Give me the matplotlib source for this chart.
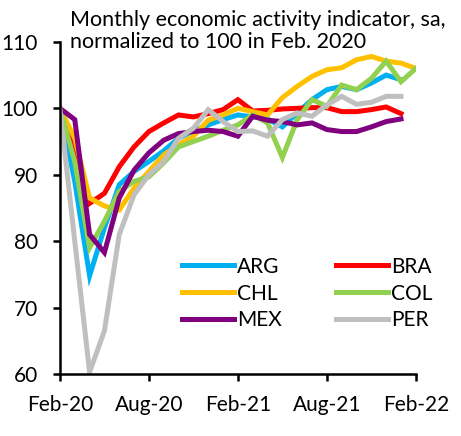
import numpy as np
import matplotlib.pyplot as plt

plt.rcParams['font.family'] = ['Lato', 'DejaVu Sans']

# monthly index values, Feb-20 onwards
arg = [100, 89, 74.8, 82, 88.5, 90.5, 92, 93.6, 95.5, 96.6, 97.5, 98.3, 99.0,
       98.7, 98.4, 97.2, 99.3, 101.3, 102.8, 103.3, 102.8, 103.8, 105.0, 104.3]
bra = [100, 94, 85.7, 87.2, 91.2, 94.2, 96.5, 97.8, 99.0, 98.7, 99.2, 99.8, 101.3,
       99.6, 99.7, 99.9, 100.0, 100.1, 100.1, 99.5, 99.5, 99.8, 100.2, 99.2]
chl = [100, 95.5, 86.5, 85.3, 84.7, 88, 90.5, 93, 94.5, 95.8, 98.2, 99, 100,
       99.5, 99, 101.6, 103.3, 104.8, 105.8, 106.1, 107.3, 107.8, 107.1, 106.8, 106]
col = [100, 92, 79, 83, 87.5, 89, 89.7, 91.8, 94.2, 95, 95.8, 96.7, 97.5,
       99, 97.8, 92.6, 98.3, 101.3, 100.3, 103.5, 102.8, 104.5, 107.1, 104, 106]
mex = [100, 98.3, 81, 78.3, 86.5, 90.7, 93.3, 95.2, 96.2, 96.5, 96.7, 96.5, 95.8,
       98.8, 98.2, 98, 97.5, 97.8, 96.8, 96.5, 96.5, 97.2, 98, 98.4]
per = [100, 80, 60.3, 66.5, 81, 87, 90, 92, 95.5, 97, 99.8, 98, 96.5,
       96.6, 95.8, 98.3, 99.3, 98.8, 100.5, 101.8, 100.6, 100.9, 101.8, 101.8]

series = [("ARG", arg, "#00B0F0"), ("BRA", bra, "#FF0000"),
          ("CHL", chl, "#FFC000"), ("COL", col, "#92D050"),
          ("MEX", mex, "#800080"), ("PER", per, "#BFBFBF")]

tick_pos = [0, 6, 12, 18, 24]
tick_labels = ["Feb-20", "Aug-20", "Feb-21", "Aug-21", "Feb-22"]

fig = plt.figure(figsize=(4.61, 4.36), dpi=100)
ax = fig.add_axes([0.130, 0.142, 0.772, 0.762])

lines = {}
for name, vals, c in series:
    lines[name], = ax.plot(np.arange(len(vals)), vals, color=c, lw=3.6,
                           label=name, solid_joinstyle='miter')

ax.set_xlim(0, 24)
ax.set_ylim(60, 110)
ax.set_yticks(range(60, 111, 10))
ax.set_xticks(tick_pos)
ax.set_xticklabels(tick_labels)
for s in ['top', 'right']:
    ax.spines[s].set_visible(False)
for s in ['left', 'bottom']:
    ax.spines[s].set_linewidth(1.8)
ax.tick_params(direction='out', length=5, width=1.8, labelsize=15, pad=10)
ax.tick_params(axis='y', pad=11)

# row-wise legend order like the original
order = ["ARG", "CHL", "MEX", "BRA", "COL", "PER"]
ax.legend([lines[n] for n in order], order, ncol=2, frameon=False, fontsize=15,
          loc='lower left', bbox_to_anchor=(0.29, 0.075), handlelength=2.5,
          handletextpad=0.15, columnspacing=2.6, labelspacing=0.33)

fig.text(0.152, 0.929, "Monthly economic activity indicator, sa,\nnormalized to 100 in Feb. 2020",
         fontsize=15.5, va='center', ha='left', linespacing=1.1)

fig.savefig("out.png", dpi=100)
